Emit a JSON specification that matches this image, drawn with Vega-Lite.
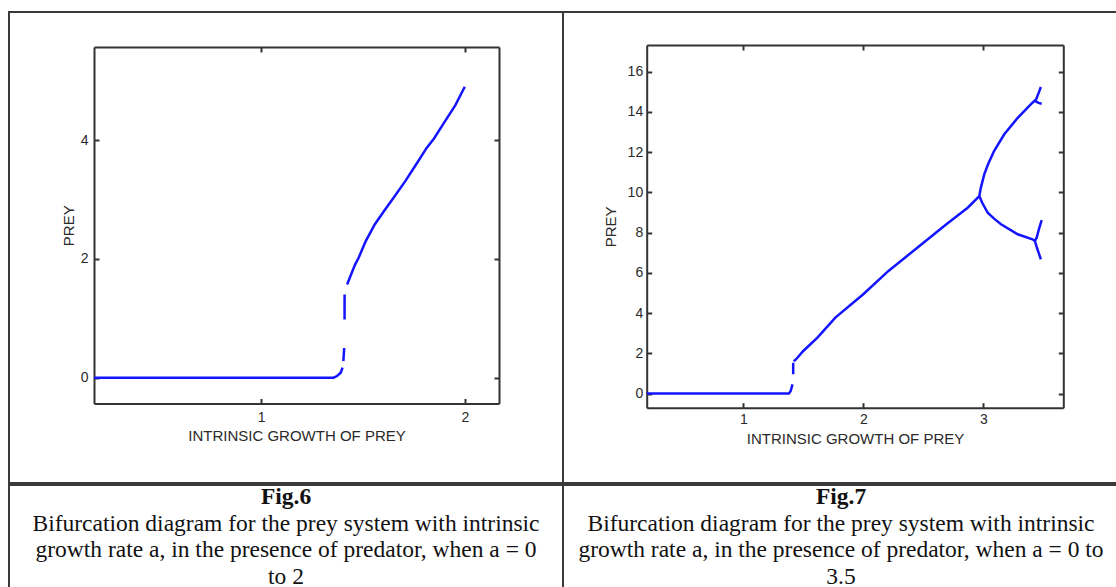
{
  "$schema": "https://vega.github.io/schema/vega-lite/v6.json",
  "padding": {"left": 8, "top": 11, "right": 0, "bottom": 0},
  "background": "white",
  "spacing": 0,
  "config": {
    "view": {"stroke": null},
    "concat": {"spacing": 0},
    "font": "Liberation Sans",
    "axis": {
      "grid": false,
      "domainColor": "#333333",
      "domainWidth": 2,
      "tickColor": "#333333",
      "tickWidth": 2,
      "tickSize": -5,
      "labelFont": "Liberation Sans",
      "labelFontSize": 14,
      "labelColor": "#2a2a2a",
      "titleFont": "Liberation Sans",
      "titleFontSize": 15,
      "titleFontWeight": "normal",
      "titleColor": "#2a2a2a"
    }
  },
  "vconcat": [
    {
      "spacing": 0,
      "bounds": "flush",
      "hconcat": [
        {
          "width": 554,
          "height": 471,
          "view": {"stroke": "#3a3a3a", "strokeWidth": 2},
          "data": {"values": [
            {"seg": "a", "a": 0.18, "prey": 0},
            {"seg": "a", "a": 1.356, "prey": 0},
            {"seg": "a", "a": 1.373, "prey": 0.028},
            {"seg": "a", "a": 1.391, "prey": 0.084},
            {"seg": "a", "a": 1.4, "prey": 0.17},
            {"seg": "b", "a": 1.404, "prey": 0.28},
            {"seg": "b", "a": 1.408, "prey": 0.5},
            {"seg": "c", "a": 1.41, "prey": 0.98},
            {"seg": "c", "a": 1.4101, "prey": 1.4},
            {"seg": "d", "a": 1.4225, "prey": 1.57},
            {"seg": "d", "a": 1.435, "prey": 1.68},
            {"seg": "d", "a": 1.461, "prey": 1.9},
            {"seg": "d", "a": 1.479, "prey": 2.02},
            {"seg": "d", "a": 1.514, "prey": 2.3},
            {"seg": "d", "a": 1.558, "prey": 2.58},
            {"seg": "d", "a": 1.602, "prey": 2.8},
            {"seg": "d", "a": 1.655, "prey": 3.05},
            {"seg": "d", "a": 1.708, "prey": 3.31},
            {"seg": "d", "a": 1.761, "prey": 3.59},
            {"seg": "d", "a": 1.813, "prey": 3.87},
            {"seg": "d", "a": 1.849, "prey": 4.03},
            {"seg": "d", "a": 1.901, "prey": 4.31},
            {"seg": "d", "a": 1.954, "prey": 4.59},
            {"seg": "d", "a": 2.0, "prey": 4.9}
          ]},
          "layer": [
            {
              "mark": {"type": "line", "color": "#1414ff", "strokeWidth": 2.5},
              "encoding": {
                "x": {"field": "a", "type": "quantitative",
                  "scale": {"domain": [0.18, 2.168], "range": [85, 490], "nice": false, "zero": false},
                  "axis": {"orient": "bottom", "offset": -79.5, "values": [1, 2], "labelPadding": 12, "titlePadding": 4, "title": "INTRINSIC GROWTH OF PREY"}},
                "y": {"field": "prey", "type": "quantitative",
                  "scale": {"domain": [-0.435, 5.57], "range": [391.5, 35], "nice": false, "zero": false},
                  "axis": {"orient": "left", "offset": -85, "values": [0, 2, 4], "labelPadding": 11, "titlePadding": 4, "title": "PREY"}},
                "detail": {"field": "seg"}
              }
            },
            {
              "mark": {"type": "line", "opacity": 0},
              "encoding": {
                "x": {"field": "a", "type": "quantitative",
                  "scale": {"domain": [0.18, 2.168], "range": [85, 490], "nice": false, "zero": false},
                  "axis": {"orient": "top", "offset": -35, "values": [1, 2], "labels": false, "title": null}},
                "y": {"field": "prey", "type": "quantitative",
                  "scale": {"domain": [-0.435, 5.57], "range": [391.5, 35], "nice": false, "zero": false},
                  "axis": {"orient": "right", "offset": -64, "values": [0, 2, 4], "labels": false, "title": null}},
                "detail": {"field": "seg"}
              }
            }
          ],
          "resolve": {"axis": {"x": "independent", "y": "independent"}}
        },
        {
          "width": 556,
          "height": 471,
          "view": {"stroke": "#3a3a3a", "strokeWidth": 2},
          "data": {"values": [
            {"seg": "a", "a": 0.195, "prey": 0},
            {"seg": "a", "a": 1.38, "prey": 0},
            {"seg": "a", "a": 1.395, "prey": 0.13},
            {"seg": "a", "a": 1.41, "prey": 0.46},
            {"seg": "b", "a": 1.416, "prey": 0.96},
            {"seg": "b", "a": 1.4161, "prey": 1.54},
            {"seg": "c", "a": 1.42, "prey": 1.6},
            {"seg": "c", "a": 1.44, "prey": 1.71},
            {"seg": "c", "a": 1.5, "prey": 2.12},
            {"seg": "c", "a": 1.618, "prey": 2.78},
            {"seg": "c", "a": 1.767, "prey": 3.78},
            {"seg": "c", "a": 2.0, "prey": 4.94},
            {"seg": "c", "a": 2.21, "prey": 6.1},
            {"seg": "c", "a": 2.45, "prey": 7.25},
            {"seg": "c", "a": 2.69, "prey": 8.41},
            {"seg": "c", "a": 2.87, "prey": 9.24},
            {"seg": "c", "a": 2.967, "prey": 9.82},
            {"seg": "up", "a": 2.967, "prey": 9.82},
            {"seg": "up", "a": 2.98, "prey": 10.24},
            {"seg": "up", "a": 3.008, "prey": 10.9},
            {"seg": "up", "a": 3.04, "prey": 11.4},
            {"seg": "up", "a": 3.09, "prey": 12.06},
            {"seg": "up", "a": 3.175, "prey": 12.89},
            {"seg": "up", "a": 3.287, "prey": 13.71},
            {"seg": "up", "a": 3.41, "prey": 14.46},
            {"seg": "up", "a": 3.44, "prey": 14.62},
            {"seg": "up", "a": 3.465, "prey": 15.0},
            {"seg": "up", "a": 3.48, "prey": 15.24},
            {"seg": "up2", "a": 3.43, "prey": 14.55},
            {"seg": "up2", "a": 3.46, "prey": 14.45},
            {"seg": "up2", "a": 3.487, "prey": 14.41},
            {"seg": "low", "a": 2.967, "prey": 9.82},
            {"seg": "low", "a": 2.99, "prey": 9.5},
            {"seg": "low", "a": 3.037, "prey": 8.99},
            {"seg": "low", "a": 3.09, "prey": 8.7},
            {"seg": "low", "a": 3.148, "prey": 8.42},
            {"seg": "low", "a": 3.287, "prey": 7.92},
            {"seg": "low", "a": 3.41, "prey": 7.67},
            {"seg": "low", "a": 3.43, "prey": 7.59},
            {"seg": "low2", "a": 3.43, "prey": 7.59},
            {"seg": "low2", "a": 3.445, "prey": 7.75},
            {"seg": "low2", "a": 3.465, "prey": 8.2},
            {"seg": "low2", "a": 3.487, "prey": 8.62},
            {"seg": "low3", "a": 3.43, "prey": 7.59},
            {"seg": "low3", "a": 3.45, "prey": 7.2},
            {"seg": "low3", "a": 3.48, "prey": 6.68}
          ]},
          "layer": [
            {
              "mark": {"type": "line", "color": "#1414ff", "strokeWidth": 2.5},
              "encoding": {
                "x": {"field": "a", "type": "quantitative",
                  "scale": {"domain": [0.195, 3.667], "range": [83.7, 500.3], "nice": false, "zero": false},
                  "axis": {"orient": "bottom", "offset": -75.3, "values": [1, 2, 3], "labelPadding": 10, "titlePadding": 5, "title": "INTRINSIC GROWTH OF PREY"}},
                "y": {"field": "prey", "type": "quantitative",
                  "scale": {"domain": [-0.7, 17.33], "range": [395.7, 33], "nice": false, "zero": false},
                  "axis": {"orient": "left", "offset": -83.7, "values": [0, 2, 4, 6, 8, 10, 12, 14, 16], "labelPadding": 9, "titlePadding": 9, "title": "PREY"}},
                "detail": {"field": "seg"}
              }
            },
            {
              "mark": {"type": "line", "opacity": 0},
              "encoding": {
                "x": {"field": "a", "type": "quantitative",
                  "scale": {"domain": [0.195, 3.667], "range": [83.7, 500.3], "nice": false, "zero": false},
                  "axis": {"orient": "top", "offset": -33, "values": [1, 2, 3], "labels": false, "title": null}},
                "y": {"field": "prey", "type": "quantitative",
                  "scale": {"domain": [-0.7, 17.33], "range": [395.7, 33], "nice": false, "zero": false},
                  "axis": {"orient": "right", "offset": -55.7, "values": [0, 2, 4, 6, 8, 10, 12, 14, 16], "labels": false, "title": null}},
                "detail": {"field": "seg"}
              }
            }
          ],
          "resolve": {"axis": {"x": "independent", "y": "independent"}}
        }
      ]
    },
    {
      "spacing": 0,
      "bounds": "flush",
      "hconcat": [
        {
          "width": 554,
          "height": 110,
          "view": {"stroke": "#3a3a3a", "strokeWidth": 2},
          "data": {"values": [
            {"row": 0, "kind": "head", "text": "Fig.6"},
            {"row": 1, "kind": "body", "text": "Bifurcation diagram  for the prey system with intrinsic"},
            {"row": 2, "kind": "body", "text": "growth rate a, in the presence of predator, when a = 0"},
            {"row": 3, "kind": "body", "text": "to 2"}
          ]},
          "layer": [
            {
              "transform": [{"filter": "datum.kind === 'head'"}],
              "mark": {"type": "text", "font": "Liberation Serif", "fontSize": 23.5, "fontWeight": "bold", "color": "#111111"},
              "encoding": {
                "y": {"field": "row", "type": "quantitative", "scale": {"domain": [0, 3], "range": [12, 92]}, "axis": null},
                "text": {"field": "text"}
              }
            },
            {
              "transform": [{"filter": "datum.kind === 'body'"}],
              "mark": {"type": "text", "font": "Liberation Serif", "fontSize": 23.5, "color": "#111111"},
              "encoding": {
                "y": {"field": "row", "type": "quantitative", "scale": {"domain": [0, 3], "range": [12, 92]}, "axis": null},
                "text": {"field": "text"}
              }
            }
          ]
        },
        {
          "width": 556,
          "height": 110,
          "view": {"stroke": "#3a3a3a", "strokeWidth": 2},
          "data": {"values": [
            {"row": 0, "kind": "head", "text": "Fig.7"},
            {"row": 1, "kind": "body", "text": "Bifurcation diagram  for the prey system with intrinsic"},
            {"row": 2, "kind": "body", "text": "growth rate a, in the presence of predator, when a = 0 to"},
            {"row": 3, "kind": "body", "text": "3.5"}
          ]},
          "layer": [
            {
              "transform": [{"filter": "datum.kind === 'head'"}],
              "mark": {"type": "text", "font": "Liberation Serif", "fontSize": 23.5, "fontWeight": "bold", "color": "#111111"},
              "encoding": {
                "y": {"field": "row", "type": "quantitative", "scale": {"domain": [0, 3], "range": [12, 92]}, "axis": null},
                "text": {"field": "text"}
              }
            },
            {
              "transform": [{"filter": "datum.kind === 'body'"}],
              "mark": {"type": "text", "font": "Liberation Serif", "fontSize": 23.5, "color": "#111111"},
              "encoding": {
                "y": {"field": "row", "type": "quantitative", "scale": {"domain": [0, 3], "range": [12, 92]}, "axis": null},
                "text": {"field": "text"}
              }
            }
          ]
        }
      ]
    }
  ]
}
